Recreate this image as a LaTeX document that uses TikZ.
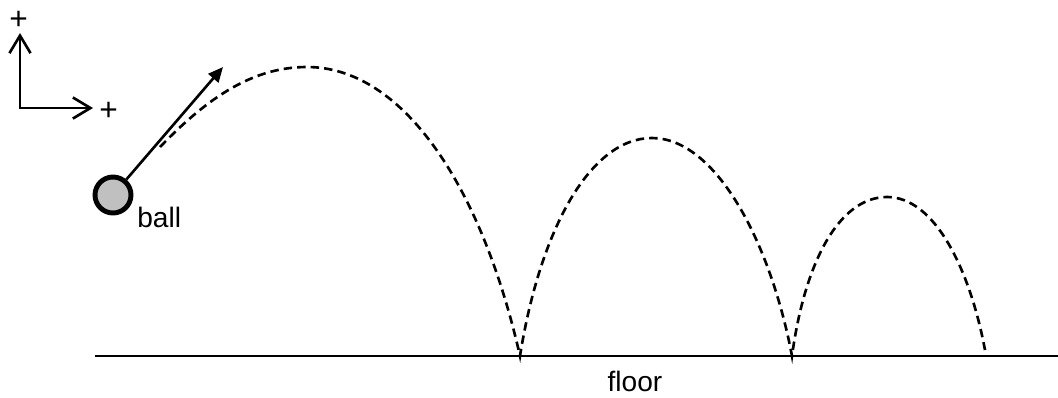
\documentclass[tikz,border=0pt]{standalone}
\usepackage{fontspec}
\setmainfont{Liberation Sans}
\usepackage{tikz}
\usetikzlibrary{arrows.meta, positioning}
\definecolor{ballgray}{HTML}{C0C0C0}

\begin{document}
\begin{tikzpicture}[x=0.02cm, y=-0.02cm,
    lbl/.style={font=\fontsize{16}{19}\selectfont, inner sep=0pt},
    pluslbl/.style={font=\fontsize{18}{21}\selectfont, inner sep=0pt},
    axisline/.style={line width=1.5pt, {Straight Barb[length=10pt,width=12pt]}-{Straight Barb[length=10pt,width=12pt]}},
    velline/.style={line width=1.5pt, -{Triangle[length=8.5pt,width=7.5pt]}},
    trackline/.style={line width=1.5pt, dash pattern=on 4.8pt off 2.9pt},
    floorline/.style={line width=1.5pt}]
    \useasboundingbox (0,0) rectangle (1058,397);

    % Axes
    \coordinate (origin) at (20,108);
    \coordinate (ytip) at (20,33);
    \coordinate (xtip) at (93,108);
    \draw[axisline] (ytip) -- (origin) -- (xtip);
    \node[pluslbl] (yplus) at (18.5,20.5) {+};
    \node[pluslbl] (xplus) at (108.5,111) {+};

    % Ball and velocity
    \node[circle, draw, fill=ballgray, line width=2.8pt, minimum size=0.72cm, inner sep=0pt] (ball) at (113,195) {};
    \node[lbl, anchor=base west] (balltext) at (137,227) {ball};
    \coordinate (vtip) at (223,67);
    \draw[velline] (ball) -- (vtip);

    % Floor
    \coordinate (floorL) at (95,356);
    \coordinate (floorR) at (1058,356);
    \draw[floorline] (floorL) -- (floorR);
    \node[lbl, anchor=base] (floortext) at (635,391) {floor};

    % Bounces
    \coordinate (hit1) at (520,356);
    \coordinate (hit2) at (792,356);
    \draw[trackline] (160,147) .. controls (210,95) and (255,67) .. (307,67)
        .. controls (400,67) and (480,180) .. (hit1)
        .. controls (540,230) and (590,138) .. (652,138)
        .. controls (715,138) and (770,240) .. (hit2)
        .. controls (805,260) and (840,197) .. (887,197)
        .. controls (935,197) and (970,270) .. (985,350);
\end{tikzpicture}
\end{document}
